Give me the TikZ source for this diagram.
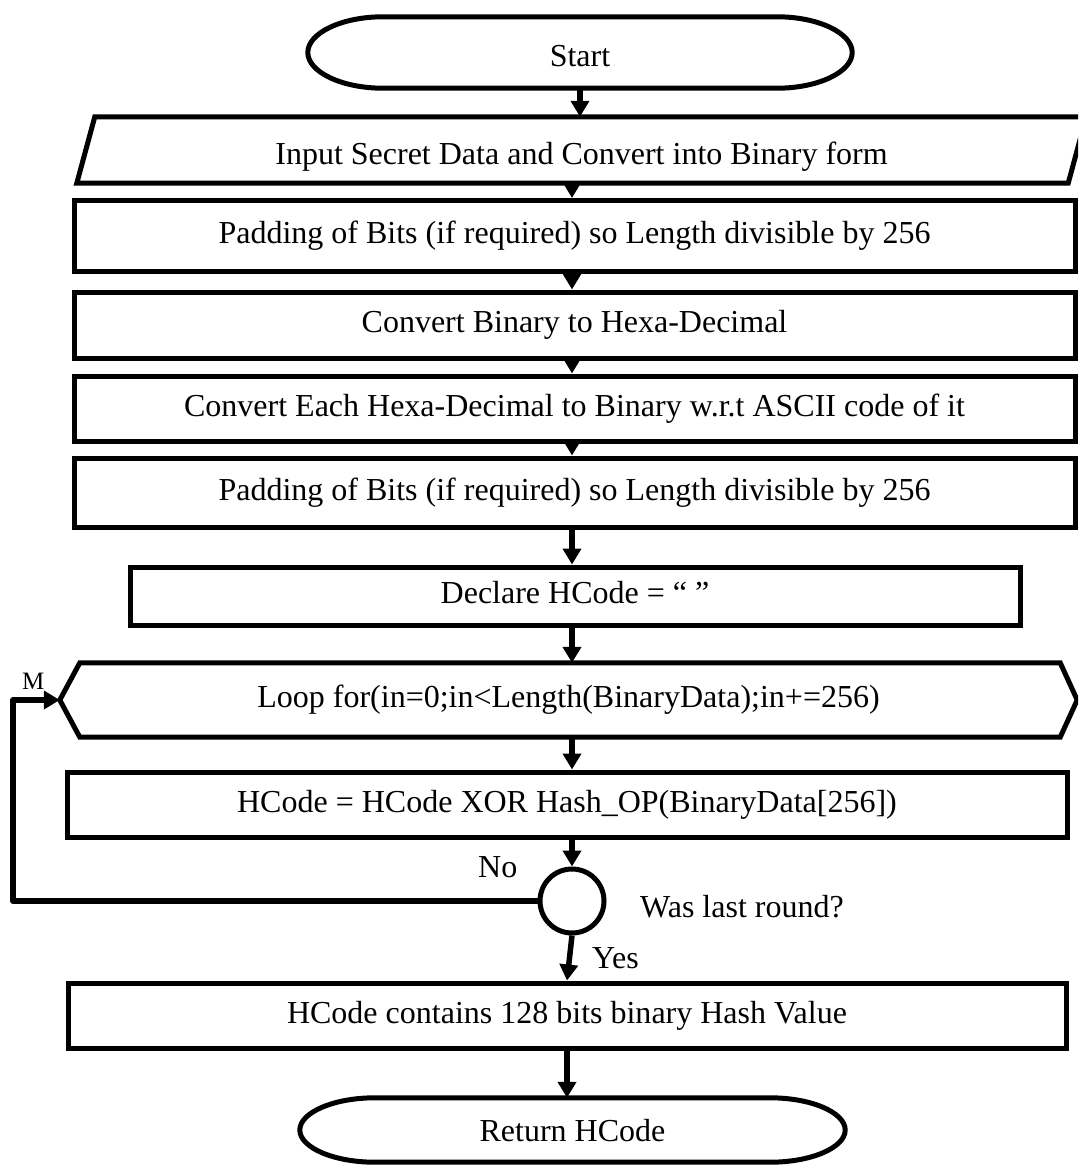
\documentclass[tikz,border=0pt]{standalone}
\usepackage{fontspec}
\setmainfont{Liberation Serif}
\usetikzlibrary{arrows.meta,calc}

% Rounded terminal outline drawn around a (borderless) node:
% #1 node name, #2 horizontal reach of each rounded end,
% #3 horizontal handle length, #4 vertical handle length
\newcommand\terminaloutline[4]{%
  \draw[outline] ($(#1.north west)+(#2,0)$) -- ($(#1.north east)+(-#2,0)$)
    .. controls +(#3,0) and +(0,-#4) .. (#1.east)
    .. controls +(0,#4) and +(#3,0) .. ($(#1.south east)+(-#2,0)$)
    -- ($(#1.south west)+(#2,0)$)
    .. controls +(-#3,0) and +(0,#4) .. (#1.west)
    .. controls +(0,-#4) and +(-#3,0) .. ($(#1.north west)+(#2,0)$) -- cycle;}

\begin{document}
\begin{tikzpicture}[x=1pt,y=-1pt,
  every node/.style={font=\fontsize{32}{36}\selectfont, inner sep=0pt,
                     text height=22pt, text depth=7pt},
  outline/.style={line width=5pt},
  procbox/.style 2 args={draw, outline, minimum width=#1, minimum height=#2},
  flow/.style={line width=5.5pt, line join=round, -{Triangle[length=16pt,width=18pt]}},
  small/.style={font=\fontsize{25}{28}\selectfont}]

\clip (0,0) rectangle (1078,1166);
\fill[white] (0,0) rectangle (1078,1166);

% vertical axis of the main flow
\coordinate (axis) at (572,0);

% start
\node[minimum width=544pt, minimum height=71pt, text height=29pt, text depth=0pt]
  (start) at (580,52.5) {Start};
\terminaloutline{start}{75}{41}{19.5}

% input (parallelogram)
\node[minimum width=1009pt, minimum height=66pt, text height=30pt, text depth=0pt]
  (input) at (581.5,150) {Input Secret Data and Convert into Binary form};
\draw[outline] (input.south west) -- ($(input.north west)+(18,0)$)
  -- (input.north east) -- ($(input.south east)+(-18,0)$) -- cycle;

% process steps
\node[procbox={1001pt}{71pt}] (pad1) at (574.5,236)
  {Padding of Bits (if required) so Length divisible by 256};
\node[procbox={1001pt}{66pt}] (hex) at (574.5,325)
  {Convert Binary to Hexa-Decimal};
\node[procbox={1001pt}{65pt}] (ascii) at (574.5,408.5)
  {Convert Each Hexa-Decimal to Binary w.r.t ASCII code of it};
\node[procbox={1001pt}{69pt}] (pad2) at (574.5,492.5)
  {Padding of Bits (if required) so Length divisible by 256};
\node[procbox={890pt}{58pt}] (declare) at (575,596)
  {Declare HCode = “ ”};

% loop (hexagon)
\node[minimum width=1017pt, minimum height=74pt] (loop) at (568.5,700)
  {Loop for(in=0;in<Length(BinaryData);in+=256)};
\draw[outline] (loop.west) -- ($(loop.north west)+(20,0)$)
  -- ($(loop.north east)+(-17,0)$) -- (loop.east)
  -- ($(loop.south east)+(-17,0)$) -- ($(loop.south west)+(20,0)$) -- cycle;

\node[procbox={1000pt}{65pt}] (hx) at (567,804.5)
  {HCode = HCode XOR Hash\_OP(BinaryData[256])};

% decision
\node[draw, outline, circle, minimum size=64pt] (dec) at (572,901) {};

\node[procbox={998pt}{65pt}] (hashval) at (567,1015.5)
  {HCode contains 128 bits binary Hash Value};

% end
\node[minimum width=545pt, minimum height=64pt, text height=26pt, text depth=3pt]
  (ret) at (572.5,1130) {Return HCode};
\terminaloutline{ret}{75}{41}{17.6}

% labels
\node[anchor=base west] (no) at (478,877) {No};
\node[anchor=base west] (was) at (640,917) {Was last round?};
\node[anchor=base west] (yes) at (592,968) {Yes};
\node[anchor=base west, small] (m) at (22,689) {M};

% connectors
\coordinate (loopcorner) at (13,700);
\draw[flow] (start.south) -- (start.south |- input.north);
\draw[flow] (axis |- input.south) -- (axis |- pad1.north);
\draw[flow] (axis |- pad1.south) -- (axis |- hex.north);
\draw[flow] (axis |- hex.south) -- (axis |- ascii.north);
\draw[flow] (axis |- ascii.south) -- (axis |- pad2.north);
\draw[flow] (axis |- pad2.south) -- (axis |- declare.north);
\draw[flow] (axis |- declare.south) -- (axis |- loop.north);
\draw[flow] (axis |- loop.south) -- (axis |- hx.north);
\draw[flow] (axis |- hx.south) -- (dec.north);
\draw[flow] (dec.south) -- (hashval.north);
\draw[flow] (hashval.south) -- (hashval.south |- ret.north);
\draw[flow] (dec.west) -| (loopcorner) -- (loop.west);

\end{tikzpicture}
\end{document}
